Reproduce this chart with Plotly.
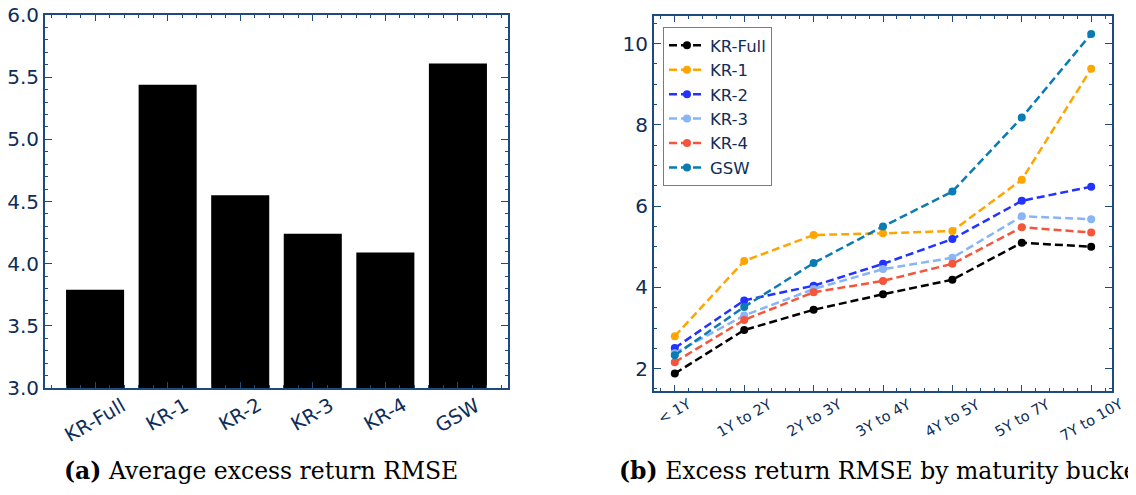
import plotly.graph_objects as go

# ---- data ----
models = ["KR-Full", "KR-1", "KR-2", "KR-3", "KR-4", "GSW"]
avg_rmse = [3.79, 5.44, 4.55, 4.24, 4.09, 5.61]

buckets = ["< 1Y", "1Y to 2Y", "2Y to 3Y", "3Y to 4Y", "4Y to 5Y", "5Y to 7Y", "7Y to 10Y"]
kr_full = [1.88, 2.95, 3.45, 3.83, 4.19, 5.10, 5.00]
kr_1 = [2.80, 4.65, 5.29, 5.33, 5.39, 6.65, 9.38]
kr_2 = [2.51, 3.68, 4.04, 4.58, 5.19, 6.13, 6.48]
kr_3 = [2.38, 3.31, 3.96, 4.45, 4.73, 5.75, 5.68]
kr_4 = [2.16, 3.20, 3.88, 4.16, 4.58, 5.48, 5.35]
gsw = [2.33, 3.52, 4.60, 5.50, 6.36, 8.18, 10.24]

series = [("KR-Full", kr_full, "#000000"),
          ("KR-1", kr_1, "#FFA500"),
          ("KR-2", kr_2, "#2233FF"),
          ("KR-3", kr_3, "#88B4F8"),
          ("KR-4", kr_4, "#F5553A"),
          ("GSW", gsw, "#0B7BB5")]

W, H = 1136, 495
OX, OY = 8, 8  # page offset compensation
SPINE = "#1D4B80"
TXT = "#0E2D57"

def fx(x):
    return (x - OX) / W

def fy(y):
    return 1 - (y - OY) / H

fig = go.Figure()

fig.add_trace(go.Bar(x=list(range(len(models))), y=avg_rmse, width=0.8,
                     marker=dict(color="black", line=dict(width=0)),
                     showlegend=False, xaxis="x", yaxis="y"))

for name, vals, col in series:
    fig.add_trace(go.Scatter(x=list(range(len(buckets))), y=vals, name=name,
                             mode="lines+markers",
                             line=dict(color=col, width=2.5, dash="8px,4px"),
                             marker=dict(color=col, size=8),
                             xaxis="x2", yaxis="y2"))

axcommon = dict(showline=True, linecolor=SPINE, linewidth=2, mirror="allticks",
                ticks="inside", tickcolor=SPINE, showgrid=False, zeroline=False,
                automargin=False)

fig.update_layout(
    width=W, height=H, margin=dict(l=0, r=0, t=0, b=0, autoexpand=False),
    plot_bgcolor="white", paper_bgcolor="white",
    font=dict(family="DejaVu Sans", color=TXT),
    xaxis=dict(domain=[fx(45), fx(508)], range=[-0.69, 5.69], tickvals=list(range(6)),
               showticklabels=False, ticklen=6, tickwidth=1,
               minor=dict(dtick=0.2, tick0=0, ticks="inside", ticklen=3, tickcolor=SPINE),
               anchor="y", **axcommon),
    yaxis=dict(domain=[fy(388), fy(15)], range=[3.0, 6.0], dtick=0.5, tickformat=".1f",
               ticklen=7, tickwidth=1, tickfont=dict(family="DejaVu Sans", size=20, color=TXT),
               ticklabeloverflow="allow",
               minor=dict(dtick=0.1, ticks="inside", ticklen=3, tickcolor=SPINE),
               anchor="x", **axcommon),
    xaxis2=dict(domain=[fx(654), fx(1112)], range=[-0.3, 6.3], tickvals=list(range(7)),
                showticklabels=False, ticklen=6, tickwidth=1,
                minor=dict(dtick=0.2, tick0=0, ticks="inside", ticklen=3, tickcolor=SPINE),
                anchor="y2", **axcommon),
    yaxis2=dict(domain=[fy(391), fy(16)], range=[1.45, 10.68], tickvals=[2, 4, 6, 8, 10],
                ticklen=7, tickwidth=1, tickfont=dict(family="DejaVu Sans", size=20, color=TXT),
                ticklabeloverflow="allow",
                minor=dict(dtick=0.5, ticks="inside", ticklen=3, tickcolor=SPINE),
                anchor="x2", **axcommon),
    legend=dict(x=fx(663), y=fy(27), xanchor="left", yanchor="top",
                bgcolor="white", bordercolor="#6A7F9A", borderwidth=1,
                font=dict(family="DejaVu Sans", size=16.5, color=TXT),
                tracegroupgap=0, itemwidth=36),
)

ann = []
for i, m in enumerate(models):
    ann.append(dict(text=m, x=i, xref="x", y=fy(391), yref="paper",
                    xanchor="center", yanchor="top", textangle=-30, showarrow=False,
                    font=dict(family="DejaVu Sans", size=19.5, color=TXT)))
for i, b in enumerate(buckets):
    ann.append(dict(text=b, x=i, xref="x2", y=fy(393), yref="paper",
                    xanchor="center", yanchor="top", textangle=-30, showarrow=False,
                    font=dict(family="DejaVu Sans", size=14.5, color=TXT)))
ann.append(dict(text="<b>(a)</b> Average excess return RMSE", x=fx(62), y=fy(471),
                xref="paper", yref="paper", xanchor="left", yanchor="middle",
                showarrow=False, font=dict(family="DejaVu Serif", size=23.5, color="black")))
ann.append(dict(text="<b>(b)</b> Excess return RMSE by maturity bucket", x=fx(617), y=fy(471),
                xref="paper", yref="paper", xanchor="left", yanchor="middle",
                showarrow=False, font=dict(family="DejaVu Serif", size=23.5, color="black")))
fig.update_layout(annotations=ann)

fig.write_html("out.html")
